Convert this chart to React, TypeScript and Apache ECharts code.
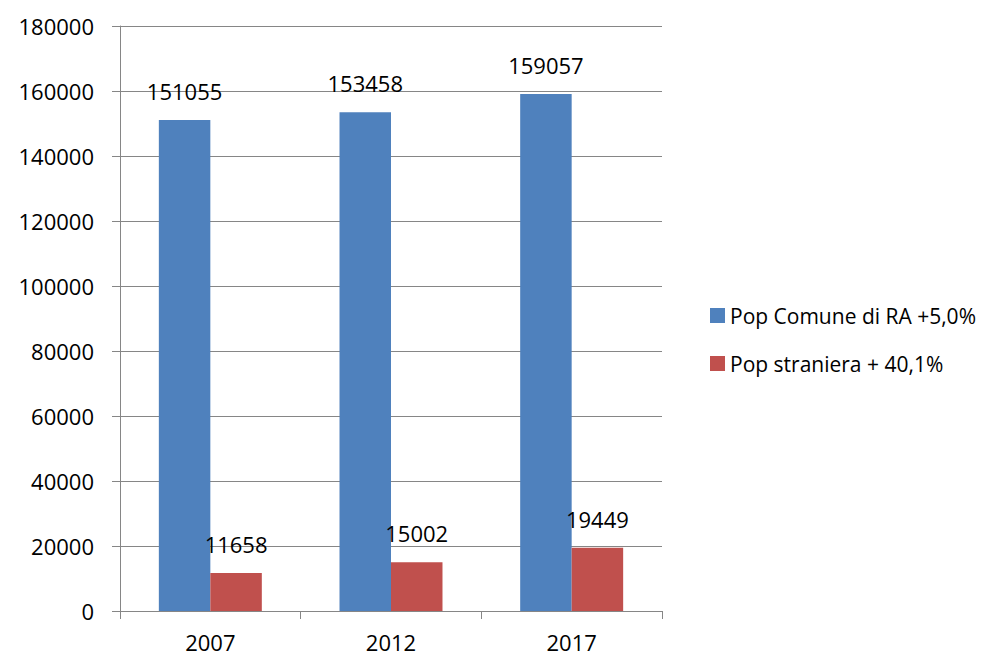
import React, { useEffect, useRef } from "react";
import * as echarts from "echarts";

const categories = ["2007", "2012", "2017"];
const popComune = [151055, 153458, 159057];
const popStraniera = [11658, 15002, 19449];
const seriesNames = ["Pop Comune di RA +5,0%", "Pop straniera + 40,1%"];

const FONT = "'Open Sans', 'Noto Sans', sans-serif";

export default function App() {
  const ref = useRef<HTMLDivElement>(null);
  useEffect(() => {
    if (!ref.current) return;
    const chart = echarts.init(ref.current, null, { renderer: "svg" });
    const labelCfg = {
      show: true,
      position: "top",
      distance: 18,
      color: "#000",
      fontSize: 22,
      fontFamily: FONT,
    };
    chart.setOption({
      animation: false,
      backgroundColor: "#fff",
      textStyle: { fontFamily: FONT },
      grid: { left: 120, right: 342, top: 26, bottom: 46, containLabel: false },
      legend: {
        orient: "vertical",
        left: 705,
        top: 300,
        itemWidth: 15,
        itemHeight: 15,
        itemGap: 27,
        icon: "rect",
        textStyle: { fontSize: 21, color: "#000", fontFamily: FONT },
        data: seriesNames,
      },
      xAxis: {
        type: "category",
        data: categories,
        axisLine: { lineStyle: { color: "#868686", width: 1 } },
        axisTick: { show: true, length: 8, lineStyle: { color: "#868686" } },
        axisLabel: {
          color: "#000",
          fontSize: 22,
          lineHeight: 22,
          margin: 20,
          fontFamily: FONT,
        },
      },
      yAxis: {
        type: "value",
        min: 0,
        max: 180000,
        interval: 20000,
        axisLine: { show: true, lineStyle: { color: "#868686", width: 1 } },
        axisTick: { show: true, length: 8, lineStyle: { color: "#868686" } },
        axisLabel: {
          color: "#000",
          fontSize: 22,
          margin: 26,
          fontFamily: FONT,
          formatter: (v: number) => String(v),
        },
        splitLine: { show: true, lineStyle: { color: "#868686", width: 1 } },
      },
      series: [
        {
          name: seriesNames[0],
          type: "bar",
          data: popComune,
          barWidth: "28.5%",
          barGap: "0%",
          itemStyle: { color: "#4F81BD" },
          label: labelCfg,
        },
        {
          name: seriesNames[1],
          type: "bar",
          data: popStraniera,
          barWidth: "28.5%",
          barGap: "0%",
          itemStyle: { color: "#C0504D" },
          label: labelCfg,
        },
      ],
    });
    return () => chart.dispose();
  }, []);
  return (
    <div
      ref={ref}
      style={{ position: "absolute", left: 0, top: 0, width: 1004, height: 657 }}
    />
  );
}
